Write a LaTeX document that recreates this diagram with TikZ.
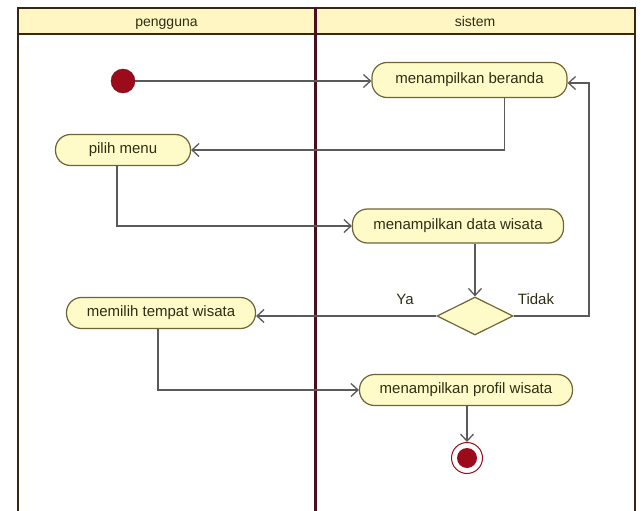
\documentclass[tikz,border=0pt]{standalone}
\usepackage{fontspec}
\setmainfont{Liberation Sans}
\usepackage{tikz}
\usetikzlibrary{shapes.geometric, arrows.meta, positioning, calc}
\definecolor{framedark}{HTML}{3A2412}
\definecolor{laneline}{HTML}{4A0E1E}
\definecolor{headfill}{HTML}{FFF6C4}
\definecolor{nodefill}{HTML}{FEFBC9}
\definecolor{nodeedge}{HTML}{6E6436}
\definecolor{textdark}{HTML}{2E2E14}
\definecolor{flowgrey}{HTML}{5A5A5A}
\definecolor{startred}{HTML}{9B0B1B}

\tikzset{
  actnode/.style={draw=nodeedge, fill=nodefill, line width=1.2pt, rounded corners=15pt,
    minimum height=32pt, inner sep=0pt, text=textdark, font=\fontsize{15}{15}\selectfont},
  flow/.style={draw=flowgrey, line width=1.3pt, -{Straight Barb[length=7pt, width=13pt]}},
  lanetext/.style={anchor=base, text=textdark, font=\fontsize{14}{14}\selectfont}
}

\begin{document}
\begin{tikzpicture}[x=1pt, y=-1pt]
  \useasboundingbox (0,0) rectangle (643,511);

  % swimlanes
  \fill[headfill] (18,8) rectangle (635,34);
  \draw[framedark, line width=2pt] (18,511) -- (18,8) -- (635,8) -- (635,511);
  \draw[framedark, line width=2pt] (18,34) -- (635,34);
  \draw[laneline, line width=3pt] (315,8) -- (315,511);
  \node[lanetext] (lanea) at (166.5,27) {pengguna};
  \node[lanetext] (laneb) at (475,27) {sistem};

  % activities
  \node[circle, fill=startred, draw=startred!70!black, minimum size=24pt, inner sep=0pt] (start) at (123,81) {};
  \node[actnode, minimum width=195pt, minimum height=35pt] (beranda) at (469.5,80) {menampilkan beranda};
  \node[actnode, minimum width=135pt, minimum height=31pt] (pilih) at (123,150) {pilih menu};
  \node[actnode, minimum width=211pt, minimum height=34pt] (data) at (458,226) {menampilkan data wisata};
  \node[diamond, aspect=2, draw=nodeedge, fill=nodefill, line width=1.2pt, minimum width=76pt, minimum height=38pt, inner sep=0pt] (cek) at (475,316) {};
  \node[actnode, minimum width=189pt, minimum height=31pt] (memilih) at (161,313) {memilih tempat wisata};
  \node[actnode, minimum width=213pt, minimum height=31pt] (profil) at (466,390) {menampilkan profil wisata};
  \node[circle, draw=startred, fill=white, line width=1pt, minimum size=31pt, inner sep=0pt] (akhir) at (467,458) {};
  \node[circle, fill=startred, minimum size=20pt, inner sep=0pt] (akhirdot) at (akhir) {};

  \node[text=textdark, font=\fontsize{15}{15}\selectfont] (ya) at (405,299) {Ya};
  \node[text=textdark, font=\fontsize{15}{15}\selectfont] (tidak) at (536,299) {Tidak};

  \coordinate (balik) at (589,0);

  % flows
  \draw[flow] (start.east) -- (start.east -| beranda.west);
  \draw[flow] ([xshift=35pt]beranda.south) |- (pilih.east);
  \draw[flow] ([xshift=-6pt]pilih.south) |- (data.west);
  \draw[flow] (data.south -| cek.north) -- (cek.north);
  \draw[flow] (cek.west) -- (cek.west -| memilih.east);
  \draw[flow] (cek.east) -- (cek.east -| balik) |- ([yshift=-3pt]beranda.east);
  \draw[flow] ([xshift=-3pt]memilih.south) |- (profil.west);
  \draw[flow] (profil.south -| akhir.north) -- (akhir.north);
\end{tikzpicture}
\end{document}
